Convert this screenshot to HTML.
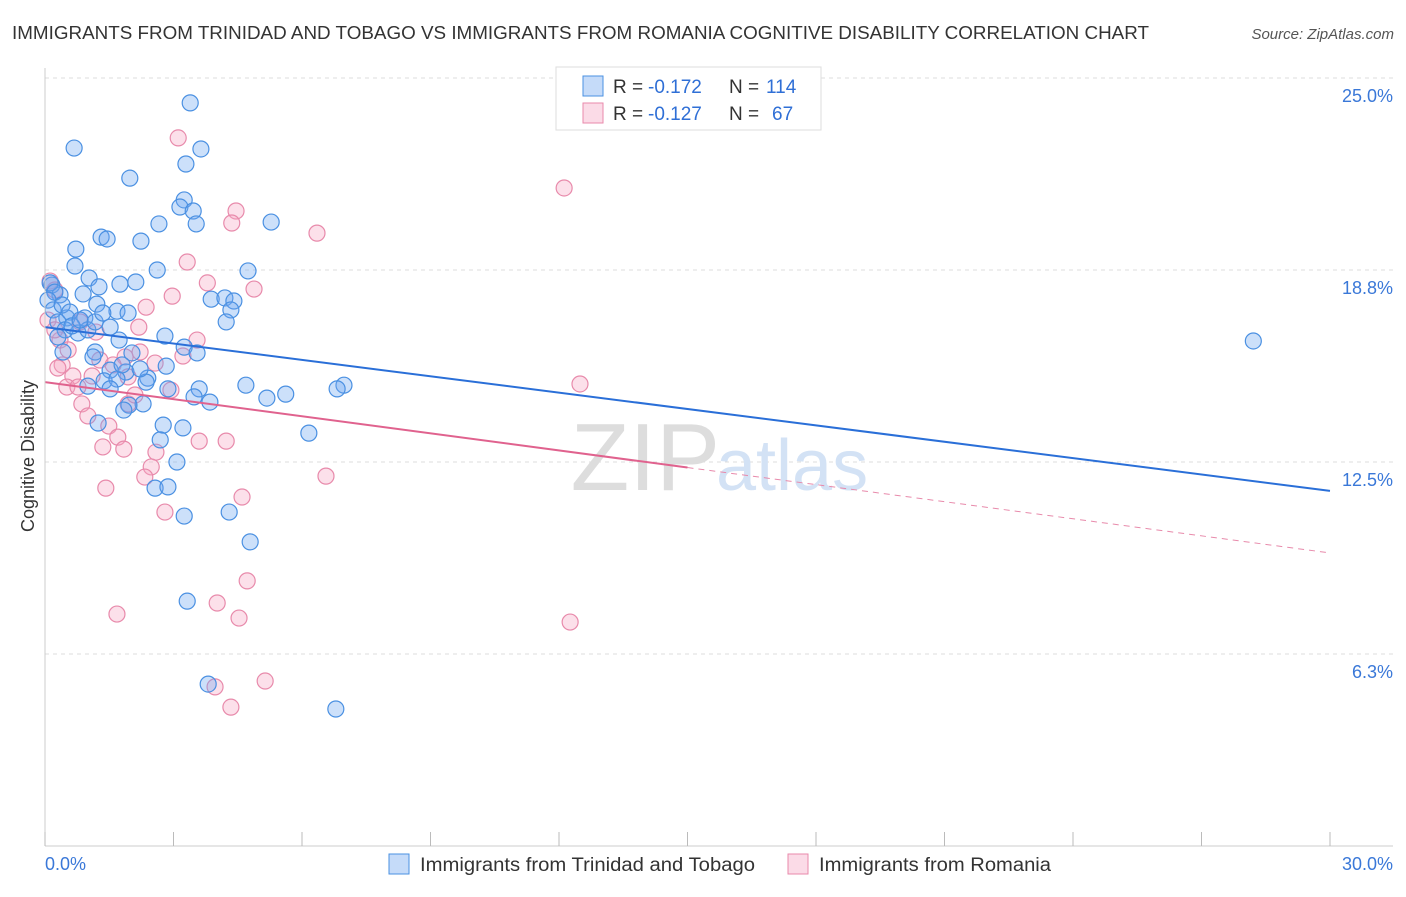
<!DOCTYPE html>
<html><head><meta charset="utf-8"><style>
body{margin:0;background:#fff;font-family:"Liberation Sans",sans-serif}
svg text{font-family:"Liberation Sans",sans-serif}
</style></head><body>
<svg id="chart" width="1406" height="892" xmlns="http://www.w3.org/2000/svg">
<text x="12" y="39" font-size="18" fill="#333" textLength="1137" lengthAdjust="spacingAndGlyphs">IMMIGRANTS FROM TRINIDAD AND TOBAGO VS IMMIGRANTS FROM ROMANIA COGNITIVE DISABILITY CORRELATION CHART</text>
<text x="1394" y="39" font-size="15" fill="#555" font-style="italic" text-anchor="end">Source: ZipAtlas.com</text>
<g id="grid"></g>
<text x="720" y="490" font-size="96" fill="#ddd" text-anchor="end" font-family="Liberation Serif">ZIP</text>
<text x="716" y="490" font-size="72" fill="#d3e2f5">atlas</text>
<g id="pts"></g>
<g id="axes"></g>
<text transform="translate(34,456) rotate(-90)" font-size="18" fill="#333" text-anchor="middle">Cognitive Disability</text>
<g>
<rect x="556" y="67" width="265" height="63" fill="#fff" stroke="#ddd"/>
<rect x="583" y="76" width="20" height="20" fill="rgba(110,165,240,0.4)" stroke="#4a90e2"/>
<rect x="583" y="103" width="20" height="20" fill="rgba(245,165,195,0.4)" stroke="#e88aab"/>
<g font-size="19" fill="#333">
<text x="613" y="93">R =</text><text x="648" y="93" fill="#2f6fd6">-0.172</text><text x="729" y="93">N =</text><text x="766" y="93" fill="#2f6fd6">114</text></g>
<g font-size="19" fill="#333">
<text x="613" y="120">R =</text><text x="648" y="120" fill="#2f6fd6">-0.127</text><text x="729" y="120">N =</text><text x="772" y="120" fill="#2f6fd6">67</text></g>
</g>
<g>
<rect x="389" y="854" width="20" height="20" fill="rgba(110,165,240,0.4)" stroke="#4a90e2"/>
<text x="420" y="871" font-size="19" fill="#333" textLength="335" lengthAdjust="spacingAndGlyphs">Immigrants from Trinidad and Tobago</text>
<rect x="788" y="854" width="20" height="20" fill="rgba(245,165,195,0.4)" stroke="#e88aab"/>
<text x="819" y="871" font-size="19" fill="#333" textLength="232" lengthAdjust="spacingAndGlyphs">Immigrants from Romania</text>
</g>
</svg>
<script>
const yTicks=[6.25,12.5,18.75,25];
const yTickLabels=["6.3%","12.5%","18.8%","25.0%"];
const xTicks=[0,3,6,9,12,15,18,21,24,27,30];
const blueX=[3.39,0.68,3.64,3.29,1.98,3.25,3.15,3.46,2.66,3.53,5.28,1.31,1.45,2.24,0.72,0.7,2.62,4.74,1.03,1.75,2.12,1.26,0.16,0.35,0.89,3.88,4.2,4.41,1.21,1.68,1.94,4.34,4.23,0.93,0.51,1.52,0.77,2.8,1.73,3.25,3.55,1.17,2.03,1.12,2.83,1.52,1.89,2.4,1.38,1.68,2.36,1.0,1.52,2.87,3.6,4.69,6.98,6.82,5.18,5.62,3.48,3.85,2.29,1.96,1.84,1.24,2.76,3.22,6.16,2.69,3.08,2.57,2.87,4.3,3.25,4.79,3.32,3.81,6.79,28.21,0.12,0.23,0.07,0.19,0.4,0.58,0.3,0.47,0.63,1.0,0.3,0.82,1.17,1.35,0.42,1.8,2.22];
const blueY=[24.19,22.72,22.69,22.2,21.74,21.03,20.8,20.67,20.25,20.25,20.31,19.82,19.76,19.69,19.43,18.88,18.75,18.72,18.49,18.29,18.36,18.2,18.26,17.94,17.97,17.8,17.84,17.74,17.64,17.41,17.35,17.45,17.06,17.19,17.19,16.89,16.7,16.6,16.47,16.24,16.05,16.08,16.05,15.92,15.62,15.49,15.43,15.23,15.14,15.2,15.1,14.97,14.88,14.88,14.88,15.0,15.0,14.88,14.58,14.71,14.62,14.45,14.39,14.35,14.19,13.77,13.7,13.61,13.44,13.22,12.5,11.65,11.69,10.87,10.74,9.9,7.97,5.27,4.46,16.44,18.33,18.03,17.77,17.45,17.61,17.38,17.06,16.8,16.93,16.8,16.57,17.12,17.06,17.35,16.08,15.66,15.53];
const pinkX=[3.11,12.12,4.46,4.36,6.35,3.32,3.79,4.88,2.97,2.36,2.19,3.55,3.22,2.57,2.22,1.87,1.19,0.82,0.35,0.54,0.4,0.3,0.65,0.51,0.77,1.1,1.94,1.94,0.86,1.0,1.49,1.7,1.84,1.35,2.59,2.48,3.6,4.23,2.94,12.49,6.56,2.33,1.42,4.6,2.8,4.72,1.68,4.02,4.53,12.26,5.14,3.97,4.34,0.12,0.23,0.07,0.23,1.28,2.1,1.59];
const pinkY=[23.05,21.42,20.67,20.28,19.95,19.01,18.33,18.13,17.9,17.54,16.89,16.47,15.95,15.72,16.08,15.92,16.73,17.06,16.47,16.15,15.66,15.56,15.3,14.94,14.94,15.3,15.27,14.39,14.39,14.0,13.67,13.31,12.92,12.99,12.82,12.34,13.18,13.18,14.84,15.04,12.04,12.01,11.65,11.36,10.87,8.63,7.55,7.91,7.42,7.29,5.37,5.18,4.52,18.39,18.1,17.12,16.8,15.82,14.68,15.66];
const blueTrend=[16.89,11.56];
const pinkTrend=[15.1,9.54];
const pinkSolidEnd=15;
const NS="http://www.w3.org/2000/svg";
const X=v=>45+v/30*1285, Y=v=>846-v/25*768;
function mk(t,a,p){const e=document.createElementNS(NS,t);for(const k in a)e.setAttribute(k,a[k]);p.appendChild(e);return e;}
const grid=document.getElementById('grid'),axes=document.getElementById('axes'),pts=document.getElementById('pts');
yTicks.forEach((t,i)=>{const l=mk('line',{x1:45,x2:1393,y1:Y(t),y2:Y(t),stroke:'#ddd','stroke-dasharray':'4,4'},grid);


const tx=mk('text',{x:1393,y:Y(t)+24,'font-size':18,fill:'#3a78d8','text-anchor':'end'},axes);tx.textContent=yTickLabels[i];

});
const xl=mk('line',{x1:45,x2:1393,y1:846,y2:846,stroke:'#ccc'},axes);


const yl=mk('line',{x1:45,x2:45,y1:68,y2:846,stroke:'#ccc'},axes);


xTicks.forEach(t=>{const l=mk('line',{x1:X(t),x2:X(t),y1:832,y2:846,stroke:'#bbb'},axes);

});
const x0=mk('text',{x:45,y:870,'font-size':18,fill:'#3a78d8'},axes);x0.textContent='0.0%';


const x1=mk('text',{x:1393,y:870,'font-size':18,fill:'#3a78d8','text-anchor':'end'},axes);x1.textContent='30.0%';


function dots(xs,ys,fill,stroke,name){xs.forEach((x,i)=>{const c=mk('circle',{cx:X(x),cy:Y(ys[i]),r:8,fill:fill,stroke:stroke,'stroke-width':1.2},pts);

});}
dots(pinkX,pinkY,'rgba(245,165,195,0.35)','#e88aab','pink-point');
dots(blueX,blueY,'rgba(110,165,240,0.35)','#4a90e2','blue-point');
const bt=mk('line',{x1:X(0),y1:Y(blueTrend[0]),x2:X(30),y2:Y(blueTrend[1]),stroke:'#2a6fd8','stroke-width':2},pts);


const pm=pinkTrend[0]+(pinkTrend[1]-pinkTrend[0])*pinkSolidEnd/30;
const ps=mk('line',{x1:X(0),y1:Y(pinkTrend[0]),x2:X(pinkSolidEnd),y2:Y(pm),stroke:'#e0628e','stroke-width':2},pts);


const pd=mk('line',{x1:X(pinkSolidEnd),y1:Y(pm),x2:X(30),y2:Y(pinkTrend[1]),stroke:'#e88aab','stroke-width':1,'stroke-dasharray':'6,5'},pts);


</script>
</body></html>
